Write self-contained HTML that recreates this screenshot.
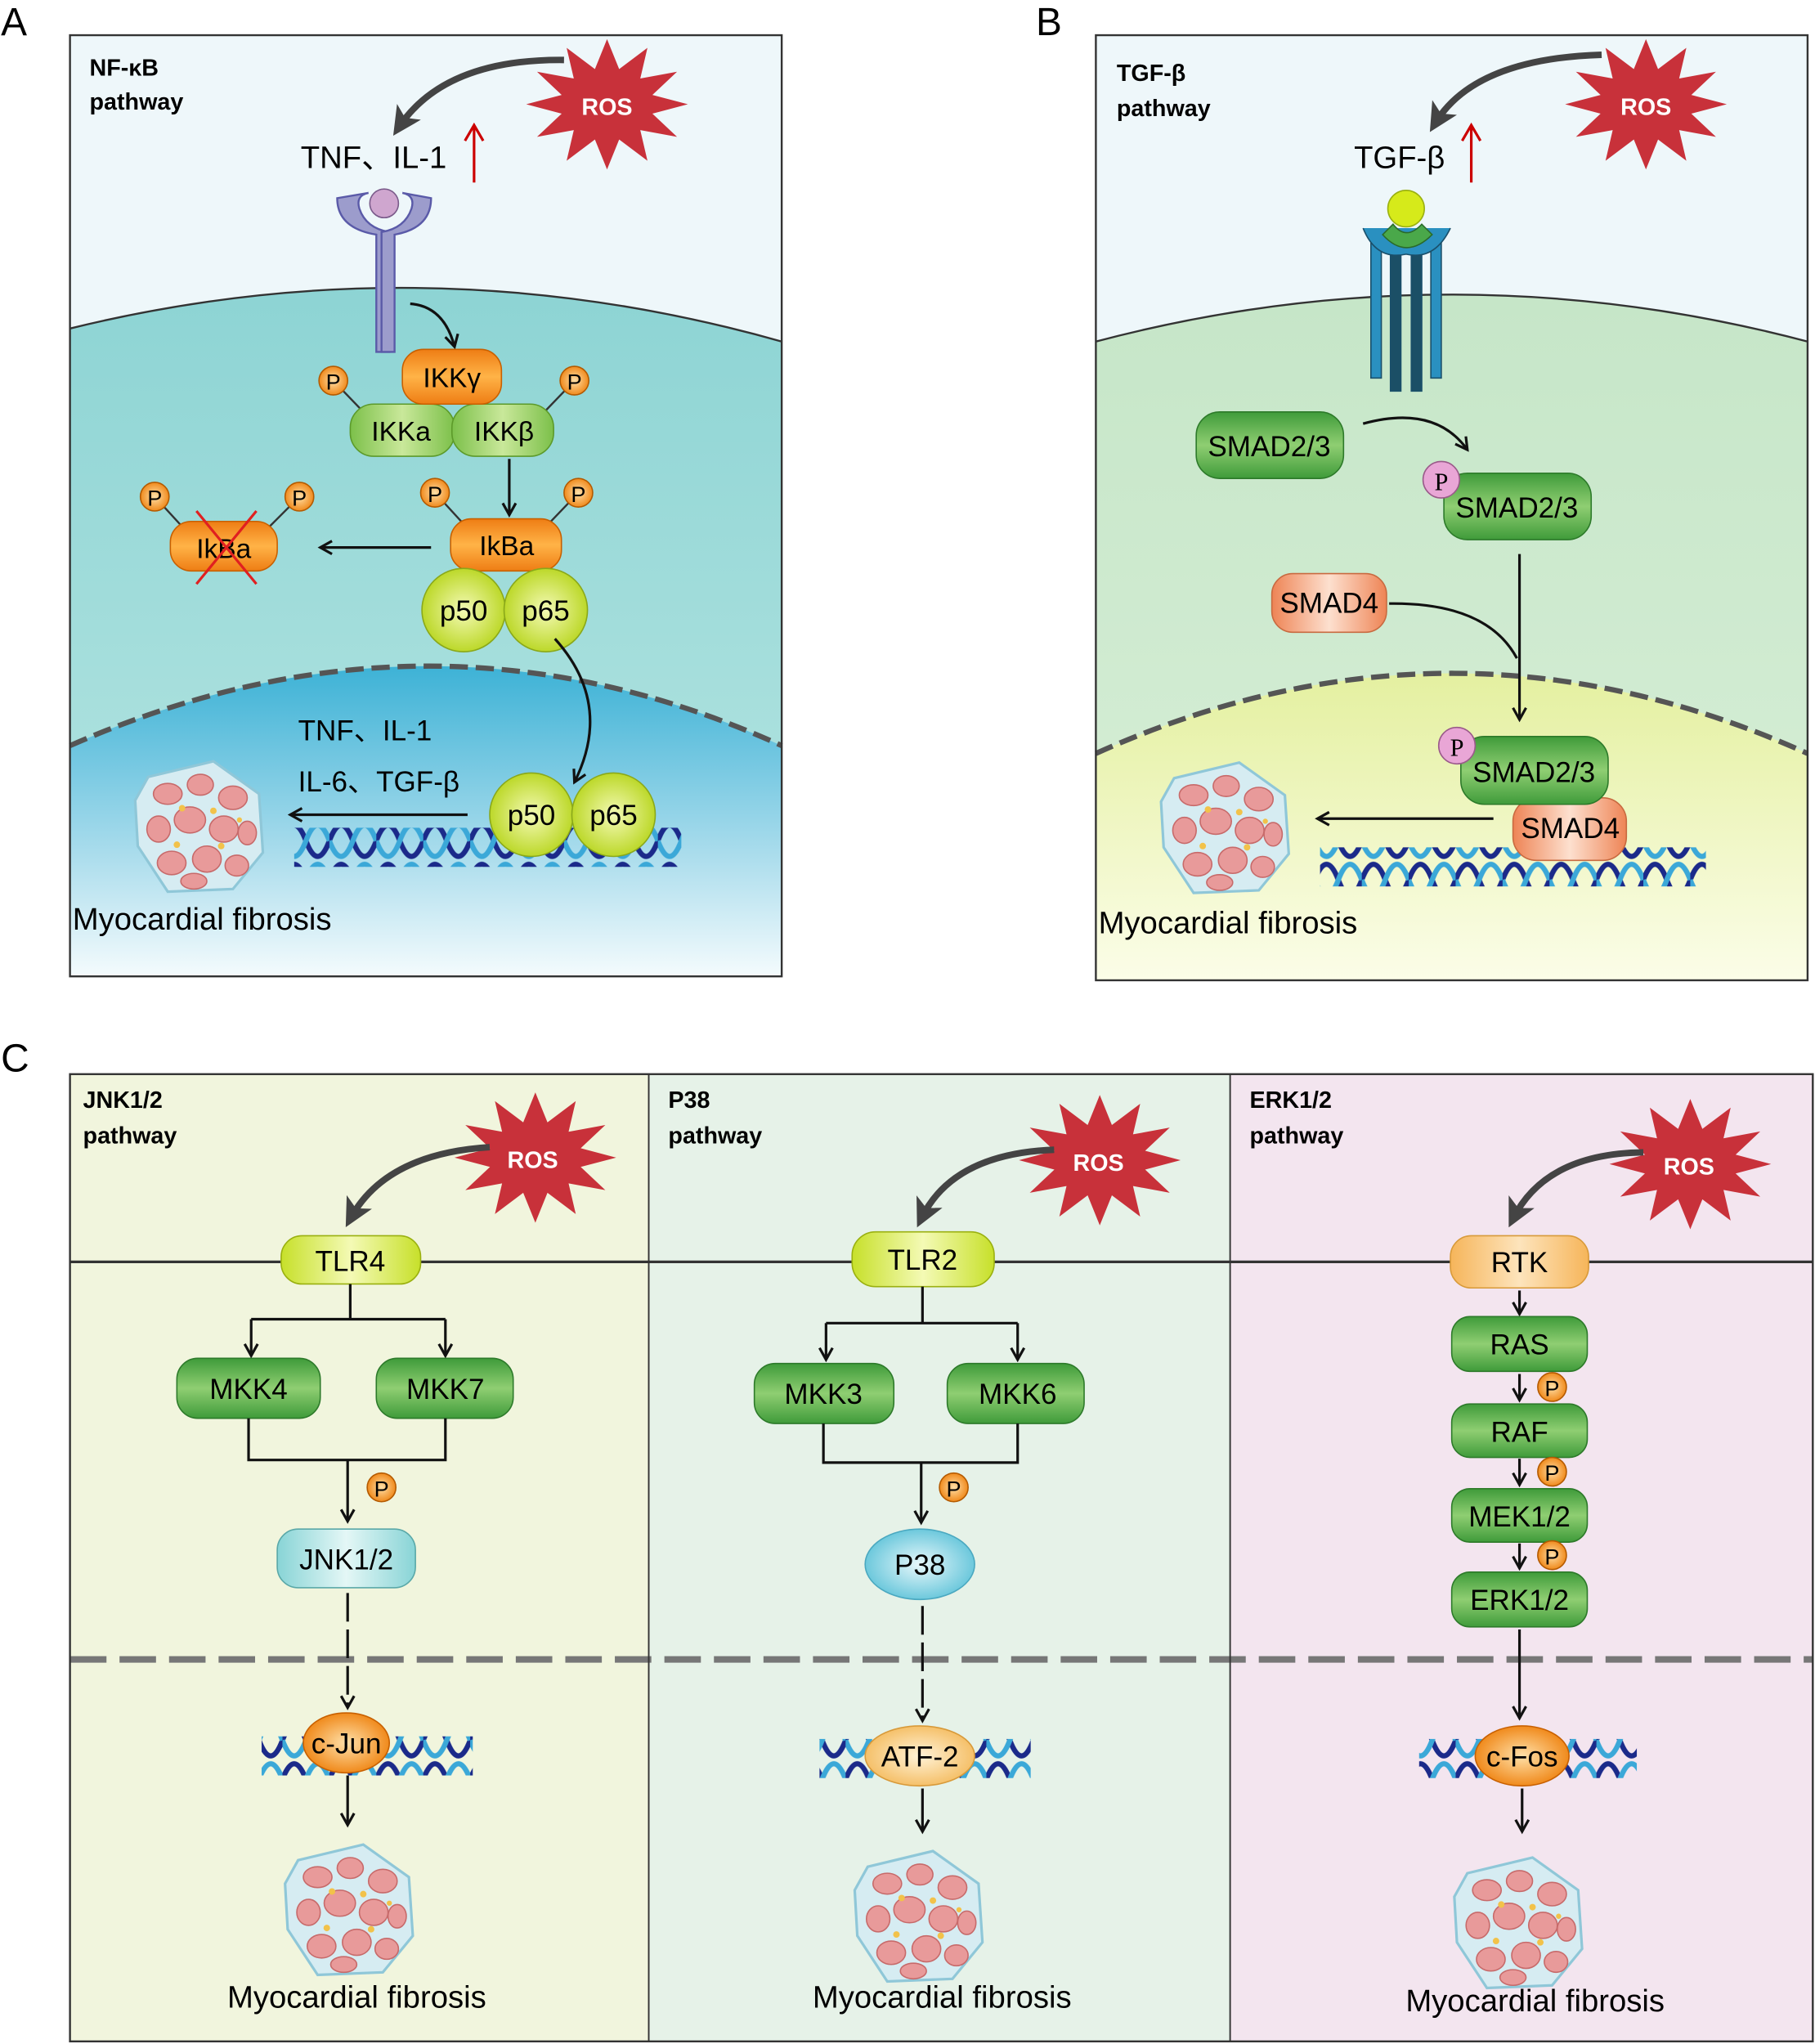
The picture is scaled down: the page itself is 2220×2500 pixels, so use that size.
<!DOCTYPE html>
<html><head><meta charset="utf-8"><style>
html,body{margin:0;padding:0;background:#fff}
svg{display:block}
text{font-family:"Liberation Sans","Noto Sans CJK SC",sans-serif}
</style></head><body>
<svg width="2220" height="2500" viewBox="0 0 1391 1568" xmlns="http://www.w3.org/2000/svg">
<defs>
<linearGradient id="gG" x1="0" y1="0" x2="0" y2="1"><stop offset="0" stop-color="#3f9b3a"/><stop offset="0.5" stop-color="#8fce72"/><stop offset="1" stop-color="#3f9b3a"/></linearGradient>
<linearGradient id="gGh" x1="0" y1="0" x2="1" y2="0"><stop offset="0" stop-color="#7cc04a"/><stop offset="0.5" stop-color="#c9e89a"/><stop offset="1" stop-color="#7cc04a"/></linearGradient>
<linearGradient id="gO" x1="0" y1="0" x2="0" y2="1"><stop offset="0" stop-color="#ee7d14"/><stop offset="0.5" stop-color="#ffb347"/><stop offset="1" stop-color="#ee7d14"/></linearGradient>
<linearGradient id="gOl" x1="0" y1="0" x2="1" y2="0"><stop offset="0" stop-color="#f6b55a"/><stop offset="0.5" stop-color="#fde4bc"/><stop offset="1" stop-color="#f6b55a"/></linearGradient>
<linearGradient id="gL" x1="0" y1="0" x2="1" y2="0"><stop offset="0" stop-color="#c7e02a"/><stop offset="0.5" stop-color="#f4fab5"/><stop offset="1" stop-color="#c7e02a"/></linearGradient>
<radialGradient id="gLr"><stop offset="0" stop-color="#f4fab5"/><stop offset="1" stop-color="#bcd829"/></radialGradient>
<linearGradient id="gS" x1="0" y1="0" x2="1" y2="0"><stop offset="0" stop-color="#ee8455"/><stop offset="0.5" stop-color="#fde0cf"/><stop offset="1" stop-color="#ee8455"/></linearGradient>
<linearGradient id="gC" x1="0" y1="0" x2="1" y2="0"><stop offset="0" stop-color="#88d4d6"/><stop offset="0.5" stop-color="#e4f7f6"/><stop offset="1" stop-color="#88d4d6"/></linearGradient>
<radialGradient id="gCe"><stop offset="0" stop-color="#e8f8fb"/><stop offset="1" stop-color="#6cc8dc"/></radialGradient>
<radialGradient id="gOe"><stop offset="0" stop-color="#ffe0a8"/><stop offset="1" stop-color="#f08a1c"/></radialGradient>
<radialGradient id="gOe2"><stop offset="0" stop-color="#fff3d8"/><stop offset="1" stop-color="#f5c069"/></radialGradient>
<linearGradient id="cytA" x1="0" y1="0" x2="0" y2="1"><stop offset="0" stop-color="#8dd4d4"/><stop offset="1" stop-color="#b8e6e2"/></linearGradient>
<linearGradient id="nucA" x1="0" y1="0" x2="0" y2="1"><stop offset="0" stop-color="#3db2d6"/><stop offset="0.6" stop-color="#a9dcec"/><stop offset="1" stop-color="#f4fbfd"/></linearGradient>
<linearGradient id="cytB" x1="0" y1="0" x2="0" y2="1"><stop offset="0" stop-color="#c6e6c8"/><stop offset="1" stop-color="#d8efd8"/></linearGradient>
<linearGradient id="nucB" x1="0" y1="0" x2="0" y2="1"><stop offset="0" stop-color="#e4f0a0"/><stop offset="1" stop-color="#fbfde8"/></linearGradient>
<pattern id="dna" patternUnits="userSpaceOnUse" width="36" height="30">
<path d="M0,15 Q9,-9 18,15 Q27,39 36,15" fill="none" stroke="#1b2a8a" stroke-width="4"/>
<path d="M0,15 Q9,39 18,15 Q27,-9 36,15" fill="none" stroke="#3ba8d8" stroke-width="4"/>
</pattern>
<polygon id="star" fill="#c8313a" points="62,0 34.8,7.2 53.7,25 25.5,19.8 31,43.3 9.3,27 0,50 -9.3,27 -31,43.3 -25.5,19.8 -53.7,25 -34.8,7.2 -62,0 -34.8,-7.2 -53.7,-25 -25.5,-19.8 -31,-43.3 -9.3,-27 0,-50 9.3,-27 31,-43.3 25.5,-19.8 53.7,-25 34.8,-7.2"/>
<g id="cells">
<polygon points="-40,-38 10,-50 45,-25 48,20 25,48 -25,50 -48,15 -50,-20" fill="#d6ecf2" stroke="#8fc7d8" stroke-width="2"/>
<g fill="#e89a9a" stroke="#c76a6a" stroke-width="1">
<ellipse cx="-25" cy="-25" rx="11" ry="8"/><ellipse cx="0" cy="-32" rx="10" ry="8"/><ellipse cx="25" cy="-22" rx="11" ry="9"/>
<ellipse cx="-32" cy="2" rx="9" ry="10"/><ellipse cx="-8" cy="-5" rx="12" ry="10"/><ellipse cx="18" cy="2" rx="11" ry="10"/><ellipse cx="36" cy="5" rx="7" ry="9"/>
<ellipse cx="-22" cy="28" rx="11" ry="9"/><ellipse cx="5" cy="25" rx="11" ry="10"/><ellipse cx="28" cy="30" rx="9" ry="8"/><ellipse cx="-5" cy="42" rx="10" ry="6"/>
</g>
<g fill="#f2c24a"><circle cx="-14" cy="-14" r="2.5"/><circle cx="10" cy="-12" r="2.5"/><circle cx="-18" cy="14" r="2.5"/><circle cx="16" cy="15" r="2.5"/><circle cx="30" cy="-5" r="2"/></g>
</g>
<marker id="ah" viewBox="0 0 12 12" refX="10" refY="6" markerWidth="12" markerHeight="12" markerUnits="userSpaceOnUse" orient="auto"><path d="M1,1 L10,6 L1,11" fill="none" stroke="#111" stroke-width="2"/></marker>
<marker id="ahg" viewBox="0 0 12 12" refX="8" refY="6" markerWidth="22" markerHeight="22" markerUnits="userSpaceOnUse" orient="auto"><path d="M0,0 L12,6 L0,12 L3,6z" fill="#444"/></marker>
</defs>

<text x="0" y="27" font-size="30">A</text>
<text x="794" y="27" font-size="30">B</text>
<text x="0" y="822" font-size="30">C</text>

<!-- ===== Panel A ===== -->
<rect x="53" y="27" width="546" height="722" fill="#eef7fa"/>
<path d="M53,252 Q326,185 599,262 L599,749 L53,749Z" fill="url(#cytA)"/>
<path d="M53,252 Q326,185 599,262" fill="none" stroke="#333" stroke-width="1.5"/>
<path d="M53,572 Q330,450 599,572 L599,749 L53,749Z" fill="url(#nucA)"/>
<path d="M53,572 Q330,450 599,572" fill="none" stroke="#555" stroke-width="4" stroke-dasharray="14,6"/>
<rect x="53" y="27" width="546" height="722" fill="none" stroke="#333" stroke-width="1.5"/>
<text x="68" y="58" font-size="18" font-weight="bold">NF-κB</text>
<text x="68" y="84" font-size="18" font-weight="bold">pathway</text>
<use href="#star" x="465" y="80"/>
<text x="465" y="88" font-size="18" font-weight="bold" fill="#fff" text-anchor="middle">ROS</text>
<path d="M432,46 Q340,45 305,98" fill="none" stroke="#444" stroke-width="5" marker-end="url(#ahg)"/>
<text x="230" y="129" font-size="24">TNF、IL-1</text>
<path d="M363,140 L363,98 M356,108 L363,96 L370,108" fill="none" stroke="#c00" stroke-width="2"/>
<path d="M258,152 Q258,175 288,180 L288,270 L298,270 L298,178 Q280,175 275,160 Q272,150 282,148 Z" fill="#9c9ccc" stroke="#5a5aa8" stroke-width="1.5"/>
<path d="M330,152 Q330,175 302,180 L302,270 L292,270 L292,178 Q310,175 315,160 Q318,150 308,148 Z" fill="#9c9ccc" stroke="#5a5aa8" stroke-width="1.5"/>
<circle cx="294" cy="156" r="11" fill="#cfa6cf" stroke="#7a5a8a"/>
<path d="M314,233 Q340,235 348,266" fill="none" stroke="#111" stroke-width="2" marker-end="url(#ah)"/>
<line x1="255" y1="292" x2="280" y2="318" stroke="#333" stroke-width="1.5"/>
<line x1="440" y1="292" x2="415" y2="318" stroke="#333" stroke-width="1.5"/>
<rect x="268" y="310" width="80" height="40" rx="18" fill="url(#gGh)" stroke="#5c9a2a"/>
<rect x="346" y="310" width="78" height="40" rx="18" fill="url(#gGh)" stroke="#5c9a2a"/>
<rect x="308" y="268" width="76" height="42" rx="16" fill="url(#gO)" stroke="#c86000"/>
<text x="346" y="297" font-size="21" text-anchor="middle">IKKγ</text>
<text x="307" y="338" font-size="21" text-anchor="middle">IKKa</text>
<text x="386" y="338" font-size="21" text-anchor="middle">IKKβ</text>
<circle cx="255" cy="292" r="11" fill="url(#gOe)" stroke="#b45a00"/><text x="255" y="299" font-size="17" text-anchor="middle">P</text>
<circle cx="440" cy="292" r="11" fill="url(#gOe)" stroke="#b45a00"/><text x="440" y="299" font-size="17" text-anchor="middle">P</text>
<line x1="390" y1="352" x2="390" y2="395" stroke="#111" stroke-width="2" marker-end="url(#ah)"/>
<line x1="333" y1="378" x2="355" y2="402" stroke="#333" stroke-width="1.5"/>
<line x1="443" y1="378" x2="420" y2="402" stroke="#333" stroke-width="1.5"/>
<rect x="345" y="398" width="85" height="40" rx="16" fill="url(#gO)" stroke="#c86000"/>
<text x="388" y="426" font-size="21" text-anchor="middle">IkBa</text>
<circle cx="333" cy="378" r="11" fill="url(#gOe)" stroke="#b45a00"/><text x="333" y="385" font-size="17" text-anchor="middle">P</text>
<circle cx="443" cy="378" r="11" fill="url(#gOe)" stroke="#b45a00"/><text x="443" y="385" font-size="17" text-anchor="middle">P</text>
<circle cx="355" cy="468" r="32" fill="url(#gLr)" stroke="#8aa81a"/>
<circle cx="418" cy="468" r="32" fill="url(#gLr)" stroke="#8aa81a"/>
<text x="355" y="476" font-size="22" text-anchor="middle">p50</text>
<text x="418" y="476" font-size="22" text-anchor="middle">p65</text>
<line x1="330" y1="420" x2="245" y2="420" stroke="#111" stroke-width="2" marker-end="url(#ah)"/>
<line x1="118" y1="381" x2="140" y2="405" stroke="#333" stroke-width="1.5"/>
<line x1="229" y1="381" x2="205" y2="405" stroke="#333" stroke-width="1.5"/>
<rect x="130" y="400" width="82" height="38" rx="16" fill="url(#gO)" stroke="#c86000"/>
<text x="171" y="428" font-size="21" text-anchor="middle">IkBa</text>
<circle cx="118" cy="381" r="11" fill="url(#gOe)" stroke="#b45a00"/><text x="118" y="388" font-size="17" text-anchor="middle">P</text>
<circle cx="229" cy="381" r="11" fill="url(#gOe)" stroke="#b45a00"/><text x="229" y="388" font-size="17" text-anchor="middle">P</text>
<path d="M150,392 L196,448 M196,392 L150,448" stroke="#e02020" stroke-width="2"/>
<path d="M425,490 Q470,540 440,600" fill="none" stroke="#111" stroke-width="2" marker-end="url(#ah)"/>
<rect x="225" y="635" width="297" height="30" fill="url(#dna)"/>
<circle cx="407" cy="625" r="32" fill="url(#gLr)" stroke="#8aa81a"/>
<circle cx="470" cy="625" r="32" fill="url(#gLr)" stroke="#8aa81a"/>
<text x="407" y="633" font-size="22" text-anchor="middle">p50</text>
<text x="470" y="633" font-size="22" text-anchor="middle">p65</text>
<text x="228" y="568" font-size="22">TNF、IL-1</text>
<text x="228" y="607" font-size="22">IL-6、TGF-β</text>
<line x1="358" y1="625" x2="222" y2="625" stroke="#111" stroke-width="2" marker-end="url(#ah)"/>
<use href="#cells" x="153" y="634"/>
<text x="55" y="713" font-size="24">Myocardial fibrosis</text>

<!-- ===== Panel B ===== -->
<rect x="840" y="27" width="546" height="725" fill="#eef7fa"/>
<path d="M840,262 Q1113,190 1386,262 L1386,752 L840,752Z" fill="url(#cytB)"/>
<path d="M840,262 Q1113,190 1386,262" fill="none" stroke="#333" stroke-width="1.5"/>
<path d="M840,578 Q1113,455 1386,578 L1386,752 L840,752Z" fill="url(#nucB)"/>
<path d="M840,578 Q1113,455 1386,578" fill="none" stroke="#555" stroke-width="4" stroke-dasharray="14,6"/>
<rect x="840" y="27" width="546" height="725" fill="none" stroke="#333" stroke-width="1.5"/>
<text x="856" y="62" font-size="18" font-weight="bold">TGF-β</text>
<text x="856" y="89" font-size="18" font-weight="bold">pathway</text>
<use href="#star" x="1262" y="80"/>
<text x="1262" y="88" font-size="18" font-weight="bold" fill="#fff" text-anchor="middle">ROS</text>
<path d="M1228,42 Q1130,45 1100,95" fill="none" stroke="#444" stroke-width="5" marker-end="url(#ahg)"/>
<text x="1038" y="129" font-size="24">TGF-β</text>
<path d="M1128,140 L1128,98 M1121,108 L1128,96 L1135,108" fill="none" stroke="#c00" stroke-width="2"/>
<g stroke="#1a4f6a" stroke-width="1">
<rect x="1051" y="180" width="8" height="110" fill="#2a90c0"/>
<rect x="1066" y="185" width="8" height="115" fill="#1b4f66"/>
<rect x="1082" y="185" width="8" height="115" fill="#1b4f66"/>
<rect x="1097" y="180" width="8" height="110" fill="#2a90c0"/>
</g>
<path d="M1045,175 Q1055,200 1078,195 Q1100,200 1112,175" fill="#2a90c0" stroke="#1a4f6a"/>
<path d="M1060,180 Q1078,200 1098,180 L1090,172 Q1078,185 1068,172Z" fill="#4aa84a" stroke="#2a6a2a"/>
<circle cx="1078" cy="160" r="14" fill="#d6ea1a" stroke="#9ab010"/>
<rect x="917" y="316" width="113" height="51" rx="18" fill="url(#gG)" stroke="#2d7a2a"/>
<text x="973" y="350" font-size="22" text-anchor="middle">SMAD2/3</text>
<path d="M1045,325 Q1100,310 1125,345" fill="none" stroke="#111" stroke-width="2" marker-end="url(#ah)"/>
<rect x="1107" y="363" width="113" height="51" rx="18" fill="url(#gG)" stroke="#2d7a2a"/>
<text x="1163" y="397" font-size="22" text-anchor="middle">SMAD2/3</text>
<circle cx="1105" cy="368" r="14" fill="#e9a6d6" stroke="#9a5a8a"/>
<text x="1105" y="376" font-size="19" text-anchor="middle" style="font-family:'Liberation Serif',serif">P</text>
<line x1="1165" y1="425" x2="1165" y2="552" stroke="#111" stroke-width="2" marker-end="url(#ah)"/>
<rect x="975" y="440" width="88" height="45" rx="16" fill="url(#gS)" stroke="#c86a40"/>
<text x="1019" y="470" font-size="22" text-anchor="middle">SMAD4</text>
<path d="M1065,463 Q1140,462 1163,505" fill="none" stroke="#111" stroke-width="2"/>
<rect x="1012" y="650" width="296" height="30" fill="url(#dna)"/>
<rect x="1160" y="612" width="87" height="48" rx="18" fill="url(#gS)" stroke="#c86a40"/>
<text x="1204" y="643" font-size="22" text-anchor="middle">SMAD4</text>
<rect x="1120" y="565" width="113" height="52" rx="18" fill="url(#gG)" stroke="#2d7a2a"/>
<text x="1176" y="600" font-size="22" text-anchor="middle">SMAD2/3</text>
<circle cx="1117" cy="572" r="14" fill="#e9a6d6" stroke="#9a5a8a"/>
<text x="1117" y="580" font-size="19" text-anchor="middle" style="font-family:'Liberation Serif',serif">P</text>
<line x1="1145" y1="628" x2="1010" y2="628" stroke="#111" stroke-width="2" marker-end="url(#ah)"/>
<use href="#cells" x="940" y="635"/>
<text x="842" y="716" font-size="24">Myocardial fibrosis</text>

<!-- ===== Panel C ===== -->
<rect x="53" y="824" width="444" height="742" fill="#f1f5dd"/>
<rect x="497" y="824" width="446" height="742" fill="#e6f2e8"/>
<rect x="943" y="824" width="447" height="742" fill="#f3e5ef"/>
<line x1="53" y1="968" x2="1390" y2="968" stroke="#333" stroke-width="2"/>
<line x1="53" y1="1273" x2="1390" y2="1273" stroke="#777" stroke-width="5" stroke-dasharray="28,10"/>
<line x1="497" y1="824" x2="497" y2="1566" stroke="#333" stroke-width="1.2"/>
<line x1="943" y1="824" x2="943" y2="1566" stroke="#333" stroke-width="1.2"/>
<rect x="53" y="824" width="1337" height="742" fill="none" stroke="#333" stroke-width="1.5"/>

<text x="63" y="850" font-size="18" font-weight="bold">JNK1/2</text>
<text x="63" y="877" font-size="18" font-weight="bold">pathway</text>
<use href="#star" x="410" y="888"/>
<text x="408" y="896" font-size="18" font-weight="bold" fill="#fff" text-anchor="middle">ROS</text>
<path d="M375,880 Q295,885 268,935" fill="none" stroke="#444" stroke-width="5" marker-end="url(#ahg)"/>
<rect x="215" y="948" width="107" height="37" rx="16" fill="url(#gL)" stroke="#9ab010"/>
<text x="268" y="975" font-size="22" text-anchor="middle">TLR4</text>
<path d="M268,985 V1012 M192,1012 H341" stroke="#111" stroke-width="2" fill="none"/>
<line x1="192" y1="1012" x2="192" y2="1040" stroke="#111" stroke-width="2" marker-end="url(#ah)"/>
<line x1="341" y1="1012" x2="341" y2="1040" stroke="#111" stroke-width="2" marker-end="url(#ah)"/>
<rect x="135" y="1042" width="110" height="46" rx="16" fill="url(#gG)" stroke="#2d7a2a"/>
<text x="190" y="1073" font-size="22" text-anchor="middle">MKK4</text>
<rect x="288" y="1042" width="105" height="46" rx="16" fill="url(#gG)" stroke="#2d7a2a"/>
<text x="341" y="1073" font-size="22" text-anchor="middle">MKK7</text>
<path d="M190,1088 V1120 H341 V1088" stroke="#111" stroke-width="2" fill="none"/>
<line x1="266" y1="1120" x2="266" y2="1167" stroke="#111" stroke-width="2" marker-end="url(#ah)"/>
<circle cx="292" cy="1141" r="11" fill="url(#gOe)" stroke="#b45a00"/><text x="292" y="1148" font-size="17" text-anchor="middle">P</text>
<rect x="212" y="1173" width="106" height="45" rx="16" fill="url(#gC)" stroke="#5aa8a8"/>
<text x="265" y="1204" font-size="22" text-anchor="middle">JNK1/2</text>
<line x1="266" y1="1222" x2="266" y2="1310" stroke="#111" stroke-width="2" stroke-dasharray="22,6" marker-end="url(#ah)"/>
<rect x="200" y="1332" width="162" height="30" fill="url(#dna)"/>
<ellipse cx="265" cy="1337" rx="33" ry="23" fill="url(#gOe)" stroke="#c86000"/>
<text x="265" y="1345" font-size="22" text-anchor="middle">c-Jun</text>
<line x1="266" y1="1362" x2="266" y2="1400" stroke="#111" stroke-width="2" marker-end="url(#ah)"/>
<use href="#cells" x="268" y="1465"/>
<text x="273" y="1540" font-size="24" text-anchor="middle">Myocardial fibrosis</text>

<text x="512" y="850" font-size="18" font-weight="bold">P38</text>
<text x="512" y="877" font-size="18" font-weight="bold">pathway</text>
<use href="#star" x="843" y="890"/>
<text x="842" y="898" font-size="18" font-weight="bold" fill="#fff" text-anchor="middle">ROS</text>
<path d="M808,882 Q730,885 706,935" fill="none" stroke="#444" stroke-width="5" marker-end="url(#ahg)"/>
<rect x="653" y="945" width="109" height="42" rx="18" fill="url(#gL)" stroke="#9ab010"/>
<text x="707" y="974" font-size="22" text-anchor="middle">TLR2</text>
<path d="M707,987 V1015 M633,1015 H780" stroke="#111" stroke-width="2" fill="none"/>
<line x1="633" y1="1015" x2="633" y2="1043" stroke="#111" stroke-width="2" marker-end="url(#ah)"/>
<line x1="780" y1="1015" x2="780" y2="1043" stroke="#111" stroke-width="2" marker-end="url(#ah)"/>
<rect x="578" y="1046" width="107" height="46" rx="16" fill="url(#gG)" stroke="#2d7a2a"/>
<text x="631" y="1077" font-size="22" text-anchor="middle">MKK3</text>
<rect x="726" y="1046" width="105" height="46" rx="16" fill="url(#gG)" stroke="#2d7a2a"/>
<text x="780" y="1077" font-size="22" text-anchor="middle">MKK6</text>
<path d="M631,1092 V1122 H780 V1092" stroke="#111" stroke-width="2" fill="none"/>
<line x1="706" y1="1122" x2="706" y2="1168" stroke="#111" stroke-width="2" marker-end="url(#ah)"/>
<circle cx="731" cy="1141" r="11" fill="url(#gOe)" stroke="#b45a00"/><text x="731" y="1148" font-size="17" text-anchor="middle">P</text>
<ellipse cx="705" cy="1200" rx="42" ry="27" fill="url(#gCe)" stroke="#4aa8c0"/>
<text x="705" y="1208" font-size="22" text-anchor="middle">P38</text>
<line x1="707" y1="1232" x2="707" y2="1320" stroke="#111" stroke-width="2" stroke-dasharray="22,6" marker-end="url(#ah)"/>
<rect x="628" y="1334" width="162" height="30" fill="url(#dna)"/>
<ellipse cx="705" cy="1347" rx="42" ry="23" fill="url(#gOe2)" stroke="#d89a3a"/>
<text x="705" y="1355" font-size="22" text-anchor="middle">ATF-2</text>
<line x1="707" y1="1372" x2="707" y2="1405" stroke="#111" stroke-width="2" marker-end="url(#ah)"/>
<use href="#cells" x="705" y="1470"/>
<text x="722" y="1540" font-size="24" text-anchor="middle">Myocardial fibrosis</text>

<text x="958" y="850" font-size="18" font-weight="bold">ERK1/2</text>
<text x="958" y="877" font-size="18" font-weight="bold">pathway</text>
<use href="#star" x="1296" y="893"/>
<text x="1295" y="901" font-size="18" font-weight="bold" fill="#fff" text-anchor="middle">ROS</text>
<path d="M1260,884 Q1185,885 1160,935" fill="none" stroke="#444" stroke-width="5" marker-end="url(#ahg)"/>
<rect x="1112" y="948" width="106" height="40" rx="16" fill="url(#gOl)" stroke="#d89a3a"/>
<text x="1165" y="976" font-size="22" text-anchor="middle">RTK</text>
<line x1="1165" y1="990" x2="1165" y2="1008" stroke="#111" stroke-width="2" marker-end="url(#ah)"/>
<rect x="1113" y="1010" width="104" height="42" rx="14" fill="url(#gG)" stroke="#2d7a2a"/>
<text x="1165" y="1039" font-size="22" text-anchor="middle">RAS</text>
<line x1="1165" y1="1054" x2="1165" y2="1074" stroke="#111" stroke-width="2" marker-end="url(#ah)"/>
<circle cx="1190" cy="1064" r="11" fill="url(#gOe)" stroke="#b45a00"/><text x="1190" y="1071" font-size="17" text-anchor="middle">P</text>
<rect x="1113" y="1077" width="104" height="41" rx="14" fill="url(#gG)" stroke="#2d7a2a"/>
<text x="1165" y="1106" font-size="22" text-anchor="middle">RAF</text>
<line x1="1165" y1="1119" x2="1165" y2="1139" stroke="#111" stroke-width="2" marker-end="url(#ah)"/>
<circle cx="1190" cy="1129" r="11" fill="url(#gOe)" stroke="#b45a00"/><text x="1190" y="1136" font-size="17" text-anchor="middle">P</text>
<rect x="1113" y="1142" width="104" height="41" rx="14" fill="url(#gG)" stroke="#2d7a2a"/>
<text x="1165" y="1171" font-size="22" text-anchor="middle">MEK1/2</text>
<line x1="1165" y1="1184" x2="1165" y2="1203" stroke="#111" stroke-width="2" marker-end="url(#ah)"/>
<circle cx="1190" cy="1193" r="11" fill="url(#gOe)" stroke="#b45a00"/><text x="1190" y="1200" font-size="17" text-anchor="middle">P</text>
<rect x="1113" y="1206" width="104" height="42" rx="14" fill="url(#gG)" stroke="#2d7a2a"/>
<text x="1165" y="1235" font-size="22" text-anchor="middle">ERK1/2</text>
<line x1="1165" y1="1250" x2="1165" y2="1318" stroke="#111" stroke-width="2" marker-end="url(#ah)"/>
<rect x="1088" y="1334" width="167" height="30" fill="url(#dna)"/>
<ellipse cx="1167" cy="1347" rx="36" ry="23" fill="url(#gOe)" stroke="#c86000"/>
<text x="1167" y="1355" font-size="22" text-anchor="middle">c-Fos</text>
<line x1="1167" y1="1372" x2="1167" y2="1405" stroke="#111" stroke-width="2" marker-end="url(#ah)"/>
<use href="#cells" x="1165" y="1475"/>
<text x="1177" y="1543" font-size="24" text-anchor="middle">Myocardial fibrosis</text>
</svg>
</body></html>
